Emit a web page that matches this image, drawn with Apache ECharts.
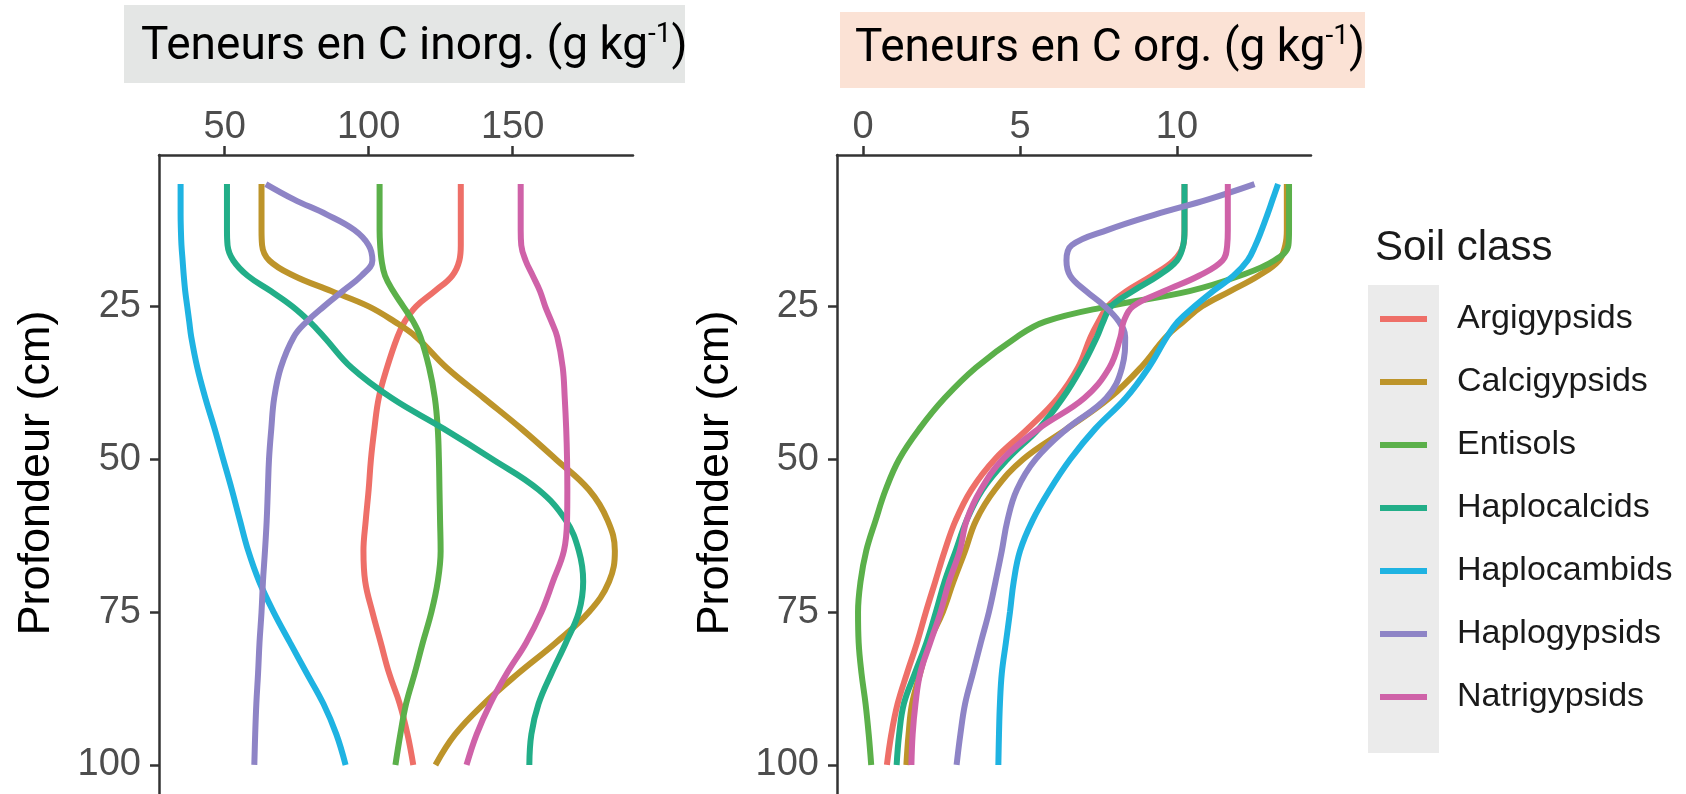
<!DOCTYPE html>
<html>
<head>
<meta charset="utf-8">
<script src="https://cdn.jsdelivr.net/npm/echarts@6/dist/echarts.min.js"></script>
<style>
html,body{margin:0;padding:0;background:#fff;}
#chart{width:1686px;height:794px;}
</style>
</head>
<body>
<div id="chart"></div>
<script>
// ---- DATA ----
const depths = [5,7.5,10,12.5,15,17.5,20,22.5,25,27.5,30,35,40,45,50,55,60,65,70,75,80,85,90,95,100];
const soilClasses = ['Argigypsids','Calcigypsids','Entisols','Haplocalcids','Haplocambids','Haplogypsids','Natrigypsids'];
const classColors = ['#EE6F68','#BD942A','#5BB04A','#22AE88','#1FB3E2','#8E84C6','#CF62A8'];

// Inorganic C (g/kg) by depth
const inorgArgigypsids  = [132,132,132,132,132,131.5,129,123,116.5,112.5,110,106.4,103.5,102,100.8,100,99,98.2,98.8,101.3,104.2,107.1,110.8,113.5,115.5];
const inorgCalcigypsids = [62.8,62.8,62.8,62.8,63,65.5,74,87,100,109,116.5,127,140,153,165,176.5,183,185.5,183.5,176.5,165,152,140,130,123.2];
const inorgEntisols     = [103.8,103.8,103.8,103.8,104,104.5,105.7,108.5,112,115.5,118,121,123,124,124.4,124.6,124.8,125,124,121.8,118.8,116,113,111,109.3];
const inorgHaplocalcids = [50.8,50.8,50.8,50.8,51,53,58,66,73.5,79.5,84.5,94,108,126,143,159,168.5,173,174.5,173,168.5,163.5,159,156.5,155.8];
const inorgHaplocambids = [34.7,34.7,34.7,34.8,35,35.4,35.8,36.3,37,37.7,38.4,40.5,43.3,46.5,49.5,52.5,55.3,58.2,62,67,72.7,78.5,84.3,88.8,92];
const inorgHaplogypsids = [64.3,74,85.5,95,100,101.3,97.5,91,84.5,78.5,74,69.5,67.2,66.2,65.4,65,64.6,64,63.3,62.8,62.1,61.6,61,60.6,60.3];
const inorgNatrigypsids = [152.8,152.8,152.8,152.8,153,154.5,157,159.5,161.3,163.5,165.5,167.4,168.1,168.6,168.9,169,168.9,167.8,164,160,154.7,148,142.2,137.5,134];

// Organic C (g/kg) by depth
const orgArgigypsids  = [10.24,10.24,10.24,10.24,10.2,9.9,9.2,8.4,7.8,7.5,7.25,6.85,6.2,5.25,4.2,3.45,2.95,2.6,2.3,2.0,1.72,1.4,1.1,0.9,0.76];
const orgCalcigypsids = [13.5,13.5,13.5,13.5,13.45,13.25,12.6,11.7,10.8,10.2,9.65,8.85,7.85,6.5,5.1,4.2,3.6,3.25,2.88,2.54,2.1,1.82,1.56,1.45,1.38];
const orgEntisols     = [13.57,13.57,13.57,13.57,13.55,13.1,12.0,10.4,7.8,5.8,4.9,3.6,2.6,1.8,1.15,0.72,0.4,0.1,-0.08,-0.16,-0.14,-0.05,0.08,0.18,0.26];
const orgHaplocalcids = [10.24,10.24,10.24,10.24,10.2,10.0,9.4,8.6,7.9,7.65,7.45,6.96,6.36,5.6,4.6,3.8,3.3,2.95,2.6,2.32,2.02,1.65,1.3,1.15,1.07];
const orgHaplocambids = [13.22,13.05,12.88,12.7,12.5,12.25,11.8,11.15,10.56,10.03,9.68,9.1,8.37,7.4,6.6,5.95,5.4,5.0,4.8,4.68,4.55,4.42,4.36,4.33,4.31];
const orgHaplogypsids = [12.47,11.0,9.3,7.8,6.65,6.48,6.6,7.1,7.7,8.15,8.35,8.25,7.75,6.5,5.5,4.9,4.6,4.42,4.22,4.01,3.75,3.5,3.25,3.1,2.98];
const orgNatrigypsids = [11.62,11.62,11.62,11.62,11.6,11.45,10.7,9.6,8.6,8.3,8.2,7.85,7.05,5.6,4.45,3.75,3.3,3.08,2.74,2.47,2.14,1.82,1.67,1.58,1.54];

const inorgTicks = [50,100,150];
const orgTicks = [0,5,10];
const depthTicks = [25,50,75,100];

const inorgSeries = [inorgArgigypsids,inorgCalcigypsids,inorgEntisols,inorgHaplocalcids,inorgHaplocambids,inorgHaplogypsids,inorgNatrigypsids];
const orgSeries = [orgArgigypsids,orgCalcigypsids,orgEntisols,orgHaplocalcids,orgHaplocambids,orgHaplogypsids,orgNatrigypsids];

// ---- CHART ----
const chart = echarts.init(document.getElementById('chart'), null, {renderer:'canvas'});
const FONT = "'Liberation Sans', Arial, sans-serif";
const TITLEFONT = "Roboto, 'Liberation Sans', sans-serif";

function xAxisCfg(idx, min, max, ticks){
  return {
    type:'value', gridIndex:idx, position:'top', min:min, max:max,
    splitLine:{show:false},
    axisLine:{show:true, onZero:false, lineStyle:{color:'#333', width:2.5}},
    axisTick:{show:true, length:9, customValues:ticks, lineStyle:{color:'#333', width:2.5}},
    axisLabel:{customValues:ticks, color:'#4d4d4d', fontSize:38, fontFamily:FONT, margin:8}
  };
}
function yAxisCfg(idx){
  return {
    type:'value', gridIndex:idx, inverse:true, min:0.25, max:104.75,
    splitLine:{show:false},
    axisLine:{show:true, onZero:false, lineStyle:{color:'#333', width:2.5}},
    axisTick:{show:true, length:9, customValues:depthTicks, lineStyle:{color:'#333', width:2.5}},
    axisLabel:{customValues:depthTicks, color:'#4d4d4d', fontSize:38, fontFamily:FONT, margin:18}
  };
}

const series = [];
[inorgSeries, orgSeries].forEach((group, gi) => {
  group.forEach((vals, i) => {
    series.push({
      type:'line', name:soilClasses[i], xAxisIndex:gi, yAxisIndex:gi,
      data: vals.map((v, k) => [v, depths[k]]),
      showSymbol:false, symbol:'none', smooth:0.4,
      lineStyle:{color:classColors[i], width:6, cap:'butt'},
      itemStyle:{color:classColors[i]},
      z: 2 + i
    });
  });
});

const titleRich = {
  a:{fontSize:46, fontFamily:TITLEFONT, color:'#000', lineHeight:52, verticalAlign:'middle'},
  s:{fontSize:28, fontFamily:TITLEFONT, color:'#000', lineHeight:28, verticalAlign:'top'}
};

const option = {
  animation:false,
  backgroundColor:'#ffffff',
  grid:[
    {left:159, top:155, width:474, height:639},
    {left:837, top:155, width:474, height:639}
  ],
  xAxis:[ xAxisCfg(0, 27.2, 191.8, inorgTicks), xAxisCfg(1, -0.83, 14.27, orgTicks) ],
  yAxis:[ yAxisCfg(0), yAxisCfg(1) ],
  title:[{
    text:'Soil class', left:1370, top:222,
    textStyle:{fontSize:42, fontWeight:'normal', color:'#1a1a1a', fontFamily:FONT}
  }],
  legend:{
    data:soilClasses, orient:'vertical', left:1380, top:299, padding:0,
    icon:'rect', itemWidth:47, itemHeight:6, itemGap:23,
    textStyle:{fontSize:34, lineHeight:40, color:'#1a1a1a', fontFamily:FONT, padding:[0,0,0,25]}
  },
  graphic:[
    {type:'rect', z:0, shape:{x:124, y:5, width:561, height:78}, style:{fill:'#e4e6e5'}},
    {type:'rect', z:0, shape:{x:840, y:12, width:525, height:76}, style:{fill:'#fbe2d5'}},
    {type:'rect', z:0, shape:{x:1368, y:285, width:71, height:468}, style:{fill:'#ebebeb'}},
    {type:'text', z:5, x:141, y:47, style:{
      text:'{a|Teneurs en C inorg. (g kg}{s|-1}{a|)}',
      verticalAlign:'middle', align:'left', rich:titleRich
    }},
    {type:'text', z:5, x:855, y:49, style:{
      text:'{a|Teneurs en C org. (g kg}{s|-1}{a|)}',
      verticalAlign:'middle', align:'left', rich:titleRich
    }},
    {type:'text', z:5, x:37, y:473, rotation:Math.PI/2, style:{
      text:'Profondeur (cm)', font:"45px 'Liberation Sans', Arial, sans-serif", fill:'#000', align:'center', verticalAlign:'middle'
    }},
    {type:'text', z:5, x:716, y:473, rotation:Math.PI/2, style:{
      text:'Profondeur (cm)', font:"45px 'Liberation Sans', Arial, sans-serif", fill:'#000', align:'center', verticalAlign:'middle'
    }}
  ],
  series:series
};
chart.setOption(option);
</script>
</body>
</html>
